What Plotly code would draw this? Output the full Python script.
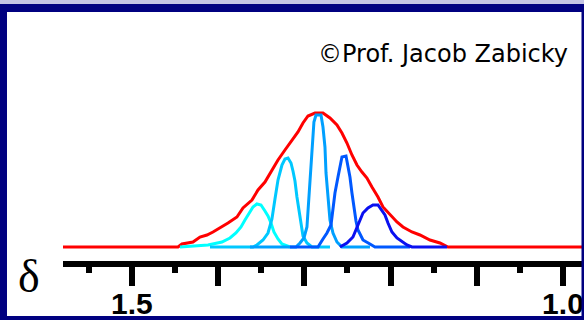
import plotly.graph_objects as go

# chemical shift (ppm) and intensity (arbitrary units)
envelope_ppm = [1.5800, 1.4466, 1.4420, 1.4292, 1.4211, 1.4130, 1.4060, 1.3979, 1.3886,
                1.3782, 1.3712, 1.3608, 1.3538, 1.3457, 1.3376, 1.3306, 1.3225, 1.3144,
                1.3074, 1.3016, 1.2958, 1.2877, 1.2784, 1.2703, 1.2622, 1.2564, 1.2506,
                1.2448, 1.2390, 1.2332, 1.2274, 1.2216, 1.2146, 1.2088, 1.2007, 1.1926,
                1.1856, 1.1752, 1.1659, 1.1543, 1.1427, 1.1334, 0.9756]
envelope_int = [0, 0, 3, 5, 10, 12, 15, 19, 24,
                30, 39, 47, 57, 65, 77, 87, 97, 107,
                115, 124, 131, 134, 134, 129, 122, 114, 104,
                92, 82, 75, 69, 60, 50, 40, 32, 25,
                20, 15, 12, 7, 4, 0, 0]

line1_ppm = [1.4443, 1.4118, 1.3956, 1.3863, 1.3794, 1.3735, 1.3689, 1.3643, 1.3596,
             1.3550, 1.3503, 1.3457, 1.3422, 1.3387, 1.3353, 1.3306, 1.3260, 1.3167]
line1_int = [0, 2, 5, 9, 14, 20, 27, 34, 40, 43, 42, 36, 31, 24, 15, 8, 3, 0]

line2_ppm = [1.4095, 1.3596, 1.3550, 1.3480, 1.3422, 1.3376, 1.3341, 1.3306, 1.3260,
             1.3225, 1.3190, 1.3155, 1.3132, 1.3109, 1.3086, 1.3051, 1.3016, 1.2970,
             1.2912, 1.2703]
line2_int = [0, 0, 2, 7, 14, 28, 48, 67, 82, 88, 89, 84, 76, 66, 50, 28, 11, 4, 0, 0]

line3_ppm = [1.3631, 1.3097, 1.3051, 1.3005, 1.2970, 1.2947, 1.2935, 1.2912, 1.2889,
             1.2865, 1.2807, 1.2784, 1.2761, 1.2749, 1.2726, 1.2703, 1.2668, 1.2622,
             1.2564, 1.2239]
line3_int = [0, 0, 4, 9, 20, 50, 74, 100, 125, 132, 132, 120, 100, 74, 50, 27, 14, 5, 0, 0]

line4_ppm = [1.3167, 1.2842, 1.2784, 1.2738, 1.2691, 1.2668, 1.2645, 1.2610, 1.2587,
             1.2564, 1.2517, 1.2494, 1.2471, 1.2448, 1.2425, 1.2401, 1.2378, 1.2320,
             1.2239, 1.2181, 1.1775]
line4_int = [0, 0, 8, 14, 22, 40, 54, 70, 82, 90, 91, 82, 70, 54, 40, 26, 17, 7, 3, 0, 0]

line5_ppm = [1.2587, 1.2506, 1.2436, 1.2390, 1.2355, 1.2320, 1.2262, 1.2204, 1.2146,
             1.2100, 1.2065, 1.2030, 1.1984, 1.1926, 1.1856, 1.1810, 1.1752, 1.1346]
line5_int = [0, 4, 10, 19, 27, 34, 39, 42, 42, 37, 32, 24, 15, 9, 5, 2, 0, 0]

major_ticks = [1.5, 1.4, 1.3, 1.2, 1.1, 1.0]
major_text = ["1.5", "", "", "", "", "1.0"]
minor_ticks = [1.55, 1.45, 1.35, 1.25, 1.15, 1.05]

fig = go.Figure()
fig.add_trace(go.Scatter(x=envelope_ppm, y=envelope_int, mode="lines",
                         line=dict(color="#FF0000", width=3), hoverinfo="skip"))
peak_sets = [
    (line1_ppm, line1_int, "#00FFFF"),
    (line2_ppm, line2_int, "#00C8FF"),
    (line3_ppm, line3_int, "#00A0FF"),
    (line4_ppm, line4_int, "#0058FF"),
    (line5_ppm, line5_int, "#0A10F0"),
]
for px, py, col in peak_sets:
    fig.add_trace(go.Scatter(x=px, y=py, mode="lines",
                             line=dict(color=col, width=3), hoverinfo="skip"))

NAVY = "#000080"
fig.update_layout(
    width=584, height=320,
    margin=dict(l=63, r=0, t=0, b=59, pad=0, autoexpand=False),
    paper_bgcolor="white", plot_bgcolor="white",
    showlegend=False,
    xaxis=dict(range=[1.5800, 0.9756], showgrid=False, zeroline=False, automargin=False,
               showline=True, linecolor="black", linewidth=6,
               ticks="outside", ticklen=19, tickwidth=6, tickcolor="black",
               ticklabelstandoff=-8,
               tickmode="array", tickvals=major_ticks, ticktext=major_text,
               tickfont=dict(family="Liberation Sans", size=30, color="black", weight="bold"),
               minor=dict(tickmode="array", tickvals=minor_ticks, ticks="outside",
                          ticklen=6, tickwidth=6, tickcolor="black", showgrid=False)),
    yaxis=dict(range=[-14, 247], visible=False, showgrid=False, zeroline=False,
               automargin=False),
    annotations=[
        dict(text="δ", xref="paper", yref="paper", x=-0.0653, y=-0.0613,
             xanchor="center", yanchor="middle", showarrow=False,
             font=dict(family="Liberation Serif", size=46, color="black")),
        dict(text="©Prof. Jacob Zabicky", xref="paper", yref="paper", x=0.9731, y=0.7931,
             xanchor="right", yanchor="middle", showarrow=False,
             font=dict(family="DejaVu Sans", size=24, color="black")),
    ],
    shapes=[
        dict(type="rect", xref="paper", yref="paper", x0=-0.13, x1=1.01, y0=0.98467, y1=1.01,
             fillcolor="#C4C4E4", line_width=0, layer="above"),
        dict(type="rect", xref="paper", yref="paper", x0=-0.13, x1=1.01, y0=0.95402, y1=0.98467,
             fillcolor=NAVY, line_width=0, layer="above"),
        dict(type="rect", xref="paper", yref="paper", x0=-0.13, x1=-0.10749, y0=-0.25, y1=0.98467,
             fillcolor=NAVY, line_width=0, layer="above"),
        dict(type="rect", xref="paper", yref="paper", x0=0.99520, x1=1.01, y0=-0.25, y1=0.98467,
             fillcolor=NAVY, line_width=0, layer="above"),
        dict(type="rect", xref="paper", yref="paper", x0=-0.13, x1=1.01, y0=-0.25, y1=-0.21073,
             fillcolor=NAVY, line_width=0, layer="above"),
    ],
)

fig.write_html("out.html")
